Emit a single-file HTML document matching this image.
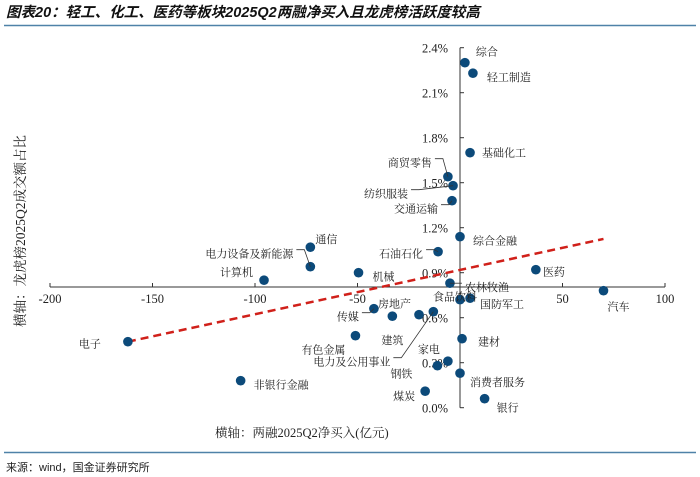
<!DOCTYPE html>
<html><head><meta charset="utf-8"><style>
body{margin:0;background:#fff;width:700px;height:477px;overflow:hidden}
svg{display:block;font-family:"Liberation Serif","Noto Serif CJK SC",serif}
.cn{font-family:"Liberation Serif","Noto Serif CJK SC",serif;font-size:11px;fill:#222}
.tk{font-family:"Liberation Serif",serif;font-size:12.5px;fill:#222}
</style></head><body>
<svg id="chart" width="700" height="477">
<text x="6" y="17" font-family="'Liberation Sans','Noto Sans CJK SC',sans-serif" font-size="14.5" font-weight="bold" font-style="italic" fill="#111">图表20：轻工、化工、医药等板块2025Q2两融净买入且龙虎榜活跃度较高</text>
<line x1="4" y1="25.5" x2="696" y2="25.5" stroke="#4f82a8" stroke-width="1.5"/>
<line x1="4" y1="452.5" x2="696" y2="452.5" stroke="#4f82a8" stroke-width="1.5"/>
<text x="6" y="471" font-family="'Liberation Sans','Noto Sans CJK SC',sans-serif" font-size="11" fill="#222">来源：wind，国金证券研究所</text>
<text x="215" y="437" class="cn" style="font-size:12.5px">横轴：两融2025Q2净买入(亿元)</text>
<text transform="translate(25,327) rotate(-90)" class="cn" style="font-size:13.5px">横轴：龙虎榜2025Q2成交额占比</text>
<g id="axes"></g><g id="trend"></g><g id="marks"></g>
</svg>
<script>
const categories=["综合","轻工制造","基础化工","商贸零售","纺织服装","交通运输","综合金融","石油石化","通信","电力设备及新能源","机械","计算机","医药","汽车","农林牧渔","国防军工","食品饮料","传媒","建筑","房地产","电力及公用事业","有色金属","建材","家电","钢铁","消费者服务","煤炭","银行","电子","非银行金融"];
const netBuy=[2.4,6.3,4.9,-5.9,-3.4,-3.9,0,-10.7,-73,-73,-49.5,-95.6,37,70,-4.9,4.9,0,-42,-33,-20,-13,-51,1,-5.9,-11,0,-17,12,-162,-107];
const share=[2.30,2.23,1.70,1.54,1.48,1.38,1.14,1.04,1.07,0.94,0.90,0.85,0.92,0.78,0.83,0.73,0.72,0.66,0.61,0.62,0.64,0.48,0.46,0.31,0.28,0.23,0.11,0.06,0.44,0.18];
const xTicks=[-200,-150,-100,-50,0,50,100];
const yTicks=[0,0.3,0.6,0.9,1.2,1.5,1.8,2.1,2.4];
const trendX=[-162,70];
const trendY=[0.44,1.125];
// label layout: [dx,dy,anchor,leader]
const lay=[[11,-11,"start",0],[14,4,"start",0],[12,0,"start",0],[-16,-14,"end",1],[-45,8,"end",1],[-14,8,"end",1],[13,4,"start",0],[-15,2,"end",1],[5,-8,"start",0],[-17,-13,"end",1],[14,4,"start",0],[-11,-8,"end",0],[7,2,"start",0],[4,16,"start",0],[15,4,"start",1],[10,6,"start",0],[-5,-3,"middle",0],[-15,8,"end",1],[-11,24,"start",0],[-41,-11,"start",0],[-43,50,"end",1],[-10,14,"end",0],[16,3,"start",0],[-30,-12,"start",0],[-47,8,"start",0],[10,9,"start",0],[-10,5,"end",0],[12,9,"start",0],[-27,2,"end",0],[13,4,"start",0]];
const X0=460,PX=2.05,Y0=407.7,PY=150,AXY=287;
const sx=v=>X0+v*PX, sy=v=>Y0-v*PY;
const NS="http://www.w3.org/2000/svg";
function mk(t,a,p){const e=document.createElementNS(NS,t);for(const k in a)e.setAttribute(k,a[k]);p.appendChild(e);return e;}
const ax=document.getElementById('axes');
let e=mk('line',{x1:sx(-200),y1:AXY,x2:sx(100),y2:AXY,stroke:'#333','stroke-width':1},ax);


e=mk('line',{x1:X0,y1:sy(2.4),x2:X0,y2:sy(0),stroke:'#333','stroke-width':1},ax);


xTicks.forEach(t=>{mk('line',{x1:sx(t),y1:AXY,x2:sx(t),y2:AXY-4,stroke:'#333'},ax);
 const tx=mk('text',{x:sx(t),y:AXY+16,'text-anchor':'middle',class:'tk'},ax);tx.textContent=t;
 
 });
yTicks.forEach(t=>{mk('line',{x1:X0,y1:sy(t),x2:X0+4,y2:sy(t),stroke:'#333'},ax);
 const tx=mk('text',{x:X0-12,y:sy(t)+5,'text-anchor':'end',class:'tk'},ax);tx.textContent=t.toFixed(1)+'%';
 
 });
const tr=mk('line',{x1:sx(trendX[0]),y1:sy(trendY[0]),x2:sx(trendX[1]),y2:sy(trendY[1]),stroke:'#d0201a','stroke-width':2.5,'stroke-dasharray':'8,5'},document.getElementById('trend'));


const mg=document.getElementById('marks');
categories.forEach((c,i)=>{const x=sx(netBuy[i]),y=sy(share[i]);const L=lay[i];
 const d=mk('circle',{cx:x,cy:y,r:4.8,fill:'#0c4a7a'},mg);
 
 
 const lx=x+L[0],ly=y+L[1];
 if(L[3]){const ex=L[2]==='end'?lx+3:lx-3;mk('polyline',{points:`${ex},${ly-4} ${ex+(L[2]==='end'?8:-6)},${ly-4} ${x},${y}`,fill:'none',stroke:'#333','stroke-width':0.8},mg);}
 const t=mk('text',{x:lx,y:ly+4,'text-anchor':L[2],class:'cn'},mg);t.textContent=c;
 
 
});
</script>
</body></html>
